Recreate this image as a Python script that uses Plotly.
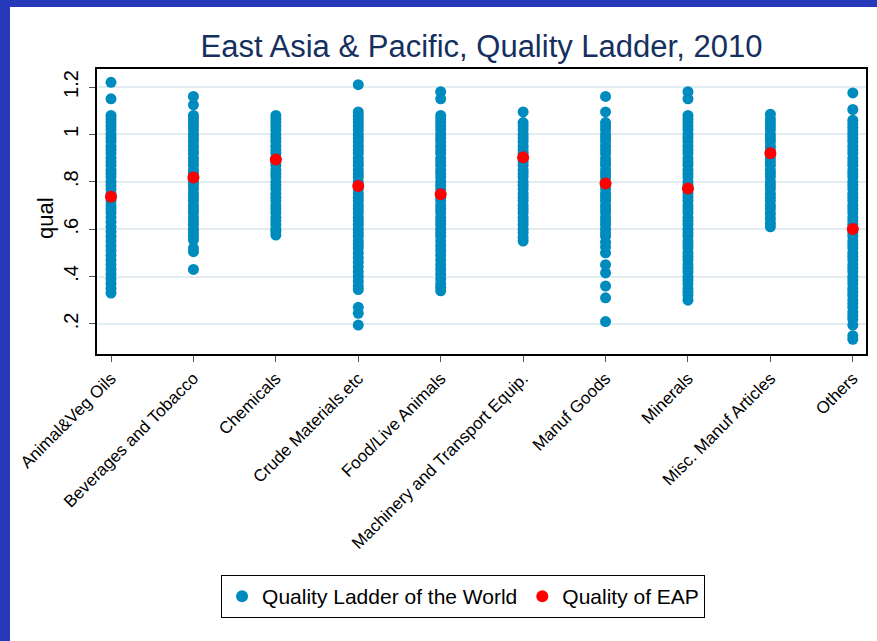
import plotly.graph_objects as go

categories = ["Animal&Veg Oils", "Beverages and Tobacco", "Chemicals", "Crude Materials.etc",
              "Food/Live Animals", "Machinery and Transport Equip.", "Manuf Goods", "Minerals",
              "Misc. Manuf Articles", "Others"]

animal_veg_oils = [1.22, 1.15, 1.08, 1.065, 1.05, 1.035, 1.02, 1.00, 0.985, 0.97, 0.95, 0.935, 0.92,
                   0.90, 0.885, 0.87, 0.85, 0.835, 0.82, 0.80, 0.785, 0.77, 0.75, 0.735, 0.72, 0.70,
                   0.685, 0.67, 0.65, 0.63, 0.61, 0.59, 0.57, 0.55, 0.53, 0.51, 0.49, 0.47, 0.45,
                   0.43, 0.41, 0.39, 0.37, 0.35, 0.33]
beverages_tobacco = [1.16, 1.125, 1.08, 1.065, 1.05, 1.035, 1.02, 1.00, 0.985, 0.97, 0.95, 0.935,
                     0.92, 0.90, 0.885, 0.87, 0.85, 0.835, 0.82, 0.80, 0.785, 0.77, 0.75, 0.735,
                     0.72, 0.70, 0.685, 0.67, 0.65, 0.635, 0.62, 0.60, 0.585, 0.57, 0.555, 0.52,
                     0.505, 0.43]
chemicals = [1.08, 1.065, 1.05, 1.035, 1.02, 1.00, 0.985, 0.97, 0.95, 0.935, 0.92, 0.90, 0.885,
             0.87, 0.85, 0.835, 0.82, 0.80, 0.785, 0.77, 0.75, 0.735, 0.72, 0.70, 0.685, 0.67,
             0.65, 0.635, 0.62, 0.60, 0.59, 0.575]
crude_materials = [1.21, 1.095, 1.08, 1.065, 1.05, 1.035, 1.02, 1.00, 0.985, 0.97, 0.95, 0.935,
                   0.92, 0.90, 0.885, 0.87, 0.85, 0.835, 0.82, 0.80, 0.785, 0.77, 0.75, 0.735,
                   0.72, 0.70, 0.685, 0.67, 0.65, 0.635, 0.62, 0.60, 0.585, 0.57, 0.55, 0.535,
                   0.52, 0.50, 0.48, 0.46, 0.44, 0.42, 0.40, 0.38, 0.36, 0.345, 0.27, 0.245, 0.195]
food_live_animals = [1.18, 1.15, 1.08, 1.065, 1.05, 1.035, 1.02, 1.00, 0.985, 0.97, 0.95, 0.935,
                     0.92, 0.90, 0.885, 0.87, 0.85, 0.835, 0.82, 0.80, 0.785, 0.77, 0.75, 0.735,
                     0.72, 0.70, 0.685, 0.67, 0.65, 0.635, 0.62, 0.60, 0.585, 0.57, 0.55, 0.53,
                     0.51, 0.49, 0.47, 0.45, 0.43, 0.41, 0.39, 0.37, 0.355, 0.34]
machinery_transport = [1.095, 1.05, 1.035, 1.02, 1.00, 0.985, 0.97, 0.95, 0.935, 0.92, 0.90,
                       0.885, 0.87, 0.85, 0.835, 0.82, 0.80, 0.785, 0.77, 0.75, 0.735, 0.72,
                       0.70, 0.685, 0.67, 0.65, 0.635, 0.62, 0.60, 0.585, 0.565, 0.55]
manuf_goods = [1.16, 1.095, 1.05, 1.035, 1.02, 1.00, 0.985, 0.97, 0.95, 0.935, 0.92, 0.90, 0.885,
               0.87, 0.85, 0.835, 0.82, 0.80, 0.785, 0.77, 0.75, 0.735, 0.72, 0.70, 0.685, 0.67,
               0.65, 0.635, 0.62, 0.60, 0.585, 0.57, 0.545, 0.525, 0.50, 0.45, 0.415, 0.36, 0.31,
               0.21]
minerals = [1.18, 1.15, 1.08, 1.065, 1.05, 1.035, 1.02, 1.00, 0.985, 0.97, 0.95, 0.935, 0.92,
            0.90, 0.885, 0.87, 0.85, 0.835, 0.82, 0.80, 0.785, 0.77, 0.75, 0.735, 0.72, 0.70,
            0.685, 0.67, 0.65, 0.635, 0.62, 0.60, 0.585, 0.57, 0.55, 0.535, 0.52, 0.50, 0.485,
            0.47, 0.45, 0.435, 0.42, 0.40, 0.385, 0.37, 0.35, 0.335, 0.32, 0.30]
misc_manuf = [1.085, 1.065, 1.05, 1.035, 1.02, 1.00, 0.985, 0.97, 0.95, 0.935, 0.92, 0.90, 0.885,
              0.87, 0.85, 0.835, 0.82, 0.80, 0.785, 0.77, 0.75, 0.735, 0.72, 0.70, 0.685, 0.665,
              0.645, 0.625, 0.61]
others = [1.175, 1.105, 1.06, 1.045, 1.03, 1.015, 1.00, 0.985, 0.97, 0.95, 0.935, 0.92, 0.90,
          0.885, 0.87, 0.85, 0.835, 0.82, 0.80, 0.785, 0.77, 0.75, 0.735, 0.72, 0.70, 0.685, 0.67,
          0.65, 0.635, 0.62, 0.60, 0.585, 0.57, 0.55, 0.535, 0.52, 0.50, 0.485, 0.47, 0.45, 0.435,
          0.42, 0.40, 0.385, 0.37, 0.35, 0.335, 0.32, 0.30, 0.285, 0.27, 0.25, 0.235, 0.22, 0.195,
          0.15, 0.135]

eap_quality = [0.737, 0.818, 0.894, 0.782, 0.747, 0.903, 0.793, 0.772, 0.920, 0.601]

ytick_vals = [0.2, 0.4, 0.6, 0.8, 1.0, 1.2]
ytick_text = [".2", ".4", ".6", ".8", "1", "1.2"]

world = [animal_veg_oils, beverages_tobacco, chemicals, crude_materials, food_live_animals,
         machinery_transport, manuf_goods, minerals, misc_manuf, others]

W, H = 877, 641
ml, mr, mt, mb = 97, 11, 69, 287

wx, wy = [], []
for cat, vals in zip(categories, world):
    wx += [cat] * len(vals)
    wy += vals

fig = go.Figure()
fig.add_trace(go.Scatter(x=wx, y=wy, mode="markers", name="Quality Ladder of the World",
                         marker=dict(color="#008bbf", size=11)))
fig.add_trace(go.Scatter(x=categories, y=eap_quality, mode="markers", name="Quality of EAP",
                         marker=dict(color="#ff0000", size=12)))

# pixel -> paper helpers for things placed outside the plot area
pw, ph = W - ml - mr, H - mt - mb
def px(x):
    return (x - ml) / pw
def py(y):
    return 1 - (y - mt) / ph

# slide border (blue strips on left and top)
border = "#2639bb"
fig.add_shape(type="rect", xref="paper", yref="paper", x0=px(0), x1=px(10), y0=py(H), y1=py(0),
              fillcolor=border, line_width=0, layer="above")
fig.add_shape(type="rect", xref="paper", yref="paper", x0=px(0), x1=px(W), y0=py(7), y1=py(0),
              fillcolor=border, line_width=0, layer="above")

fig.add_annotation(text="qual", xref="paper", yref="paper", x=px(45), y=py(218),
                   xanchor="center", yanchor="middle",
                   textangle=-90, showarrow=False, font=dict(size=22))

fig.update_layout(
    width=W, height=H,
    margin=dict(l=ml, r=mr, t=mt, b=mb, autoexpand=False),
    paper_bgcolor="white", plot_bgcolor="white",
    font=dict(family="Arial", color="black"),
    title=dict(text="East Asia & Pacific, Quality Ladder, 2010", x=0.5, xref="paper",
               y=1 - 46 / H, yanchor="middle", font=dict(size=31, color="#15305e")),
    showlegend=True,
    legend=dict(orientation="h", x=0.476, xanchor="center", y=py(575), yanchor="top",
                bordercolor="black", borderwidth=1, font=dict(size=21),
                itemsizing="constant"),
)
fig.update_xaxes(type="category", range=[-0.17, 9.16], showgrid=False, zeroline=False,
                 showline=True, linecolor="black", linewidth=1.5, mirror=True,
                 ticks="outside", ticklen=6, tickcolor="#555", tickangle=-45,
                 tickfont=dict(size=17), automargin=False)
fig.update_yaxes(range=[0.073, 1.276], tickvals=ytick_vals, ticktext=ytick_text,
                 showgrid=True, gridcolor="#e3edf1", gridwidth=1.5, zeroline=False,
                 showline=True, linecolor="black", linewidth=1.5, mirror=True,
                 ticks="outside", ticklen=6, tickcolor="#555", tickangle=-90,
                 tickfont=dict(size=20), automargin=False, ticklabelstandoff=3)

fig.write_html("out.html", config={"displayModeBar": False},
               post_script="document.body.style.margin = '0';")
